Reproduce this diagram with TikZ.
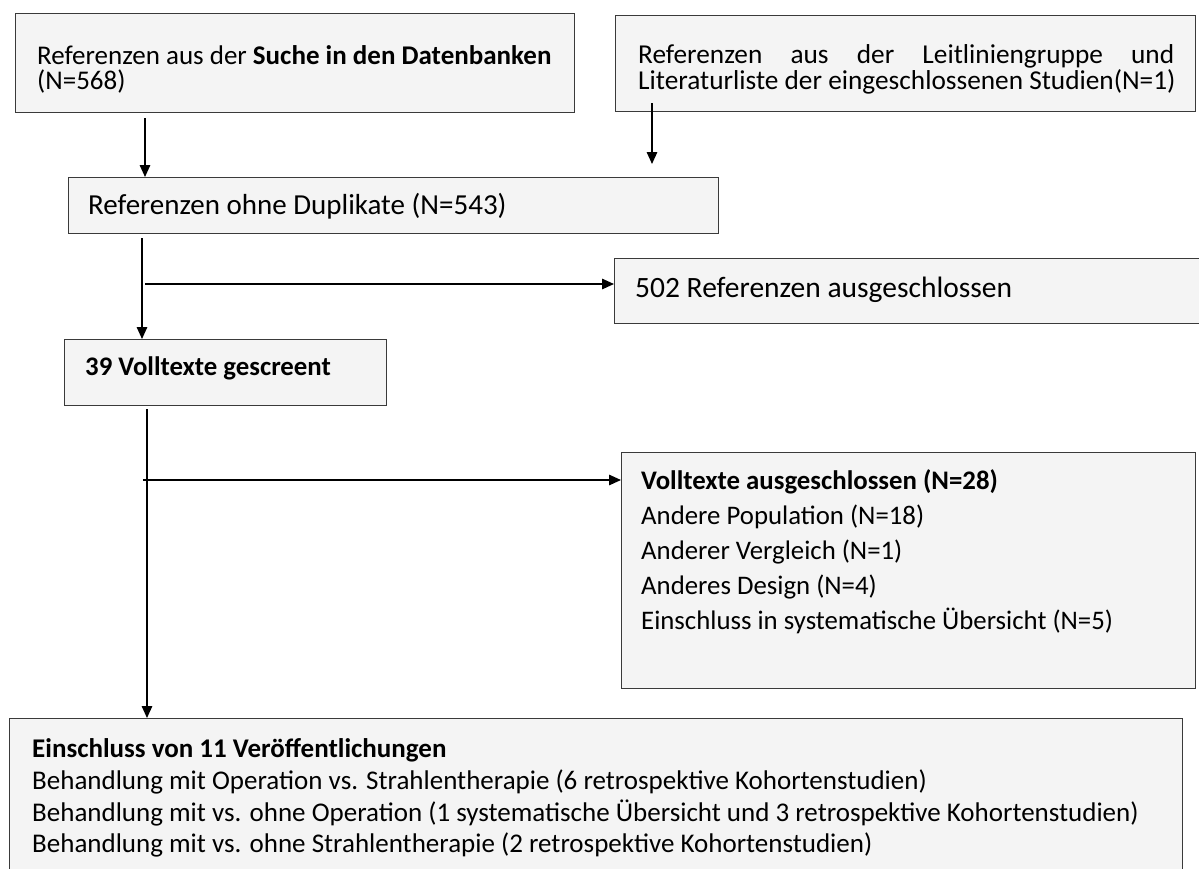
\documentclass[tikz,border=0pt]{standalone}
\usepackage{fontspec}
\setmainfont{Carlito}
\usetikzlibrary{arrows.meta,calc}
\definecolor{boxfill}{HTML}{F4F4F4}
\definecolor{boxline}{HTML}{3A3A3A}
\begin{document}
\begin{tikzpicture}[x=1pt,y=-1pt,
  box/.style={draw=boxline,fill=boxfill,line width=1pt,inner sep=0pt,anchor=north west},
  ln/.style={anchor=base west,inner sep=0pt},
  fa/.style={font=\fontsize{27}{25}\selectfont},
  fb/.style={font=\fontsize{27.3}{26}\selectfont},
  fc/.style={font=\fontsize{29}{32}\selectfont},
  fr/.style={font=\fontsize{29.5}{32}\selectfont},
  fd/.style={font=\fontsize{26.8}{30}\selectfont\bfseries},
  fe/.style={font=\fontsize{26.8}{35}\selectfont},
  ff/.style={font=\fontsize{27}{32}\selectfont},
  arr/.style={line width=1.5pt,-{Triangle[length=12pt,width=10.5pt]}}]
\clip (0,0) rectangle (1199,868);
\useasboundingbox (0,0) rectangle (1199,868);
% boxes
\node[box,minimum width=559pt,minimum height=99pt] (A) at (15,13) {};
\node[box,minimum width=580pt,minimum height=96pt] (B) at (615,15) {};
\node[box,minimum width=650pt,minimum height=56pt] (C) at (68,177) {};
\node[box,minimum width=600pt,minimum height=65pt] (R) at (614,258) {};
\node[box,minimum width=322pt,minimum height=66pt] (D) at (64,339) {};
\node[box,minimum width=574pt,minimum height=236pt] (E) at (621,452) {};
\node[box,minimum width=1173pt,minimum height=170pt] (F) at (9,718) {};
% texts
\node[ln,fa] (A1) at (37,64) {Referenzen aus der \textbf{Suche in den Datenbanken}};
\node[ln,fa] (A2) at (37,89) {(N=568)};
\node[ln,fb] (B1) at (638,63) {\makebox[536pt][s]{Referenzen aus der Leitliniengruppe und}};
\node[ln,fb] (B2) at (638,89) {Literaturliste der eingeschlossenen Studien(N=1)};
\node[ln,fc] (C1) at (88,214) {Referenzen ohne Duplikate (N=543)};
\node[ln,fr] (R1) at (635,297) {502 Referenzen ausgeschlossen};
\node[ln,fd] (D1) at (85,375) {39 Volltexte gescreent};
\node[ln,fe] (E1) at (641,489) {\textbf{Volltexte ausgeschlossen (N=28)}};
\node[ln,fe] (E2) at (641,524) {Andere Population (N=18)};
\node[ln,fe] (E3) at (641,559) {Anderer Vergleich (N=1)};
\node[ln,fe] (E4) at (641,594) {Anderes Design (N=4)};
\node[ln,fe] (E5) at (641,629) {Einschluss in systematische Übersicht (N=5)};
\node[ln,ff] (F1) at (32,757) {\textbf{Einschluss von 11 Veröffentlichungen}};
\node[ln,ff] (F2) at (32,789) {Behandlung mit Operation vs. Strahlentherapie (6 retrospektive Kohortenstudien)};
\node[ln,ff] (F3) at (32,821) {Behandlung mit vs. ohne Operation (1 systematische Übersicht und 3 retrospektive Kohortenstudien)};
\node[ln,ff] (F4) at (32,852) {Behandlung mit vs. ohne Strahlentherapie (2 retrospektive Kohortenstudien)};
% connectors
\draw[arr] ([xshift=130pt,yshift=-5pt]A.south west) -- ([xshift=77pt]C.north west);
\draw[arr] ([xshift=37pt,yshift=9pt]B.south west) -- ([xshift=37pt,yshift=-52pt]B.south west);
\draw[arr] ([xshift=74pt,yshift=-4pt]C.south west) -- ([xshift=78pt]D.north west);
\coordinate (b1) at ([xshift=77pt,yshift=-50pt]C.south west);
\draw[arr] (b1) -- (b1 -| R.west);
\draw[arr] ([xshift=83pt,yshift=-3pt]D.south west) -- ([xshift=138pt]F.north west);
\coordinate (b2) at ([xshift=79pt,yshift=-74pt]D.south west);
\draw[arr] (b2) -- (b2 -| E.west);
\end{tikzpicture}
\end{document}
